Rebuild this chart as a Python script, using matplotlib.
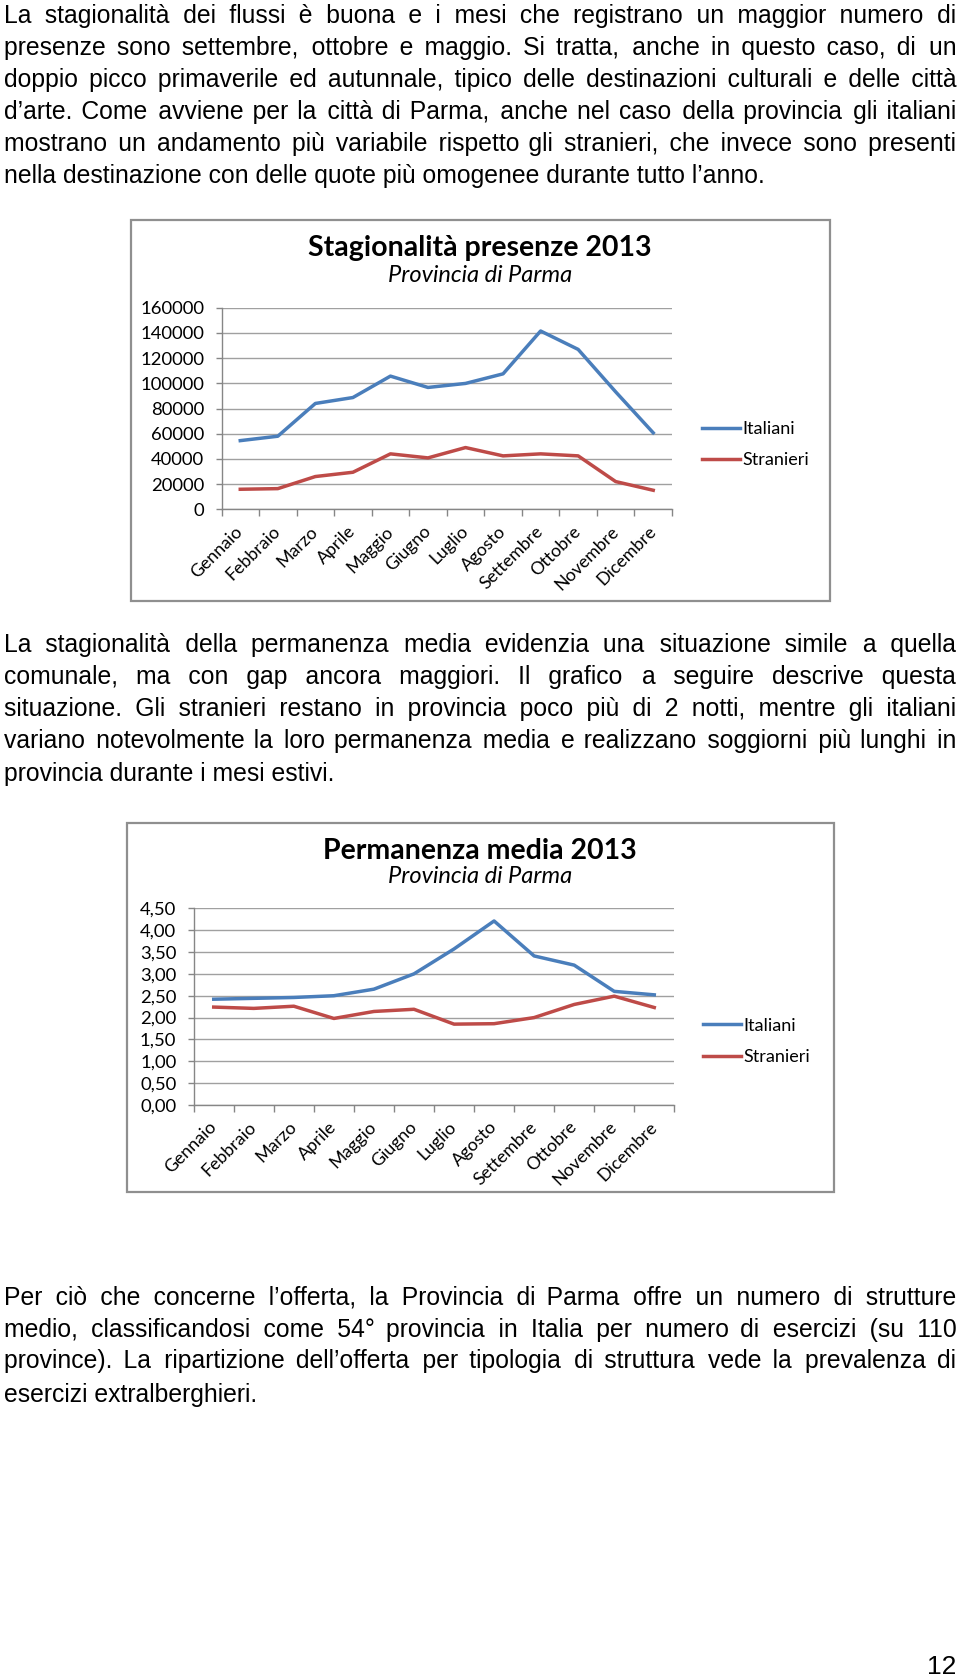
import matplotlib
matplotlib.use('Agg')
import matplotlib.pyplot as plt
from matplotlib.patches import Rectangle
from matplotlib.font_manager import FontProperties
from matplotlib.ticker import FuncFormatter
import numpy as np

# ---------------- data ----------------
months = ["Gennaio", "Febbraio", "Marzo", "Aprile", "Maggio", "Giugno", "Luglio",
          "Agosto", "Settembre", "Ottobre", "Novembre", "Dicembre"]
pres_italiani = [54500, 58000, 84000, 88700, 105700, 96700, 99900, 107500,
                 141500, 126900, 93200, 60700]
pres_stranieri = [15900, 16400, 26000, 29400, 44000, 40800, 49000, 42400,
                  44000, 42400, 22000, 15100]
perm_italiani = [2.42, 2.44, 2.46, 2.50, 2.65, 3.00, 3.57, 4.21, 3.41, 3.20, 2.60, 2.52]
perm_stranieri = [2.24, 2.21, 2.26, 1.98, 2.14, 2.19, 1.85, 1.86, 2.00, 2.30, 2.49, 2.23]
pres_yticks = [0, 20000, 40000, 60000, 80000, 100000, 120000, 140000, 160000]
perm_yticks = [0, 0.5, 1.0, 1.5, 2.0, 2.5, 3.0, 3.5, 4.0, 4.5]
series_names = ["Italiani", "Stranieri"]

par1 = [
    "La stagionalità dei flussi è buona e i mesi che registrano un maggior numero di",
    "presenze sono settembre, ottobre e maggio. Si tratta, anche in questo caso, di un",
    "doppio picco primaverile ed autunnale, tipico delle destinazioni culturali e delle città",
    "d’arte. Come avviene per la città di Parma, anche nel caso della provincia gli italiani",
    "mostrano un andamento più variabile rispetto gli stranieri, che invece sono presenti",
    "nella destinazione con delle quote più omogenee durante tutto l’anno.",
]
par2 = [
    "La stagionalità della permanenza media evidenzia una situazione simile a quella",
    "comunale, ma con gap ancora maggiori. Il grafico a seguire descrive questa",
    "situazione. Gli stranieri restano in provincia poco più di 2 notti, mentre gli italiani",
    "variano notevolmente la loro permanenza media e realizzano soggiorni più lunghi in",
    "provincia durante i mesi estivi.",
]
par3 = [
    "Per ciò che concerne l’offerta, la Provincia di Parma offre un numero di strutture",
    "medio, classificandosi come 54° provincia in Italia per numero di esercizi (su 110",
    "province). La ripartizione dell’offerta per tipologia di struttura vede la prevalenza di",
    "esercizi extralberghieri.",
]

# ---------------- figure ----------------
W, H = 960, 1680
fig = plt.figure(figsize=(9.6, 16.8), dpi=100, facecolor='white')
renderer = fig.canvas.get_renderer()
body_fp = FontProperties(family=['Liberation Sans', 'DejaVu Sans'], size=17.8)


def tw(s):
    w, h, d = renderer.get_text_width_height_descent(s, body_fp, ismath=False)
    return w


def adv(s):
    return tw("I" + s + "I") - tw("II")


SP = " "
HS = "\u200a"   # hair space, used to fine-tune the justification gaps
sp_w = adv(SP)
hs_w = adv(HS)
if hs_w <= 0.3:
    HS = "\u2009"
    hs_w = adv(HS)


def justify(line, width):
    """Build one string whose inter-word gaps stretch it to `width` pixels."""
    words = line.split(' ')
    advs = [adv(w) for w in words]
    g = (width - sum(advs)) / (len(words) - 1)
    out = words[0]
    actual = advs[0]
    target = advs[0]
    for k in range(1, len(words)):
        target += g
        best = None
        for n1 in range(1, 10):
            for n2 in range(0, 12):
                gw = n1 * sp_w + n2 * hs_w
                err = abs(actual + gw - target)
                if best is None or err < best[0]:
                    best = (err, n1, n2, gw)
        _, n1, n2, gw = best
        out += SP * n1 + HS * n2 + words[k]
        actual += gw + advs[k]
        target += advs[k]
    return out


def draw_par(lines, y_centers, left=4, right=956):
    for i, (line, yc) in enumerate(zip(lines, y_centers)):
        yb = 1 - (yc + 8) / H
        last = (i == len(lines) - 1)
        s = line if last else justify(line, right - left)
        fig.text(left / W, yb, s, fontproperties=body_fp, va='baseline',
                 ha='left', color='black')


draw_par(par1, [15, 47, 79, 111.5, 143.5, 175.5])
draw_par(par2, [644, 676, 708, 740, 772.5])
draw_par(par3, [1296, 1328.5, 1360, 1394])
fig.text(956 / W, 1 - (1665 + 9) / H, "12",
         fontproperties=FontProperties(family='Liberation Sans', size=19),
         ha='right', va='baseline')

BLUE = '#4A7EBB'
RED = '#BE4B48'
AXC = '#868686'
GRIDC = '#a0a0a0'
chart_font = 'Lato'


def box(l, t, r, b):
    fig.add_artist(Rectangle((l / W, 1 - b / H), (r - l) / W, (b - t) / H,
                             transform=fig.transFigure, fill=False,
                             edgecolor='#8f8f8f', lw=1.6))


def chart(l, t, r, b, ymax, yticks, fmt, ital, stran, title, title_size,
          title_y, sub_y, leg_x, leg_y):
    ax = fig.add_axes([l / W, 1 - b / H, (r - l) / W, (b - t) / H])
    x = np.arange(len(months))
    ax.plot(x, ital, color=BLUE, lw=2.5, label=series_names[0], solid_joinstyle='round')
    ax.plot(x, stran, color=RED, lw=2.5, label=series_names[1], solid_joinstyle='round')
    ax.set_xlim(-0.5, len(months) - 0.5)
    ax.set_ylim(0, ymax)
    ax.set_yticks(yticks)
    ax.yaxis.set_major_formatter(FuncFormatter(fmt))
    ax.grid(axis='y', color=GRIDC, lw=1.0)
    ax.set_axisbelow(True)
    for s in ['top', 'right']:
        ax.spines[s].set_visible(False)
    for s in ['left', 'bottom']:
        ax.spines[s].set_color(AXC)
        ax.spines[s].set_linewidth(1.0)
    ax.set_xticks(x)
    ax.set_xticklabels(months, rotation=45, ha='right', va='center',
                       rotation_mode='anchor', family=chart_font, fontsize=12.8)
    ax.set_xticks(np.arange(-0.5, len(months), 1), minor=True)
    ax.tick_params(axis='x', which='major', length=0, pad=14)
    ax.tick_params(axis='x', which='minor', length=5, color=AXC, width=1)
    ax.tick_params(axis='y', length=4.5, color=AXC, width=1, pad=8)
    for lab in ax.get_yticklabels():
        lab.set_family(chart_font)
        lab.set_fontsize(13.3)
    ax.set_facecolor('none')
    fig.text(480 / W, 1 - title_y / H, title, family=chart_font, weight='bold',
             fontsize=title_size, ha='center', va='center')
    fig.text(480 / W, 1 - sub_y / H, "Provincia di Parma", family=chart_font,
             style='italic', fontsize=17, ha='center', va='center')
    ax.legend(loc='center left', bbox_to_anchor=(leg_x / W, 1 - leg_y / H),
              bbox_transform=fig.transFigure, frameon=False, borderpad=0,
              borderaxespad=0, handlelength=2.1, handletextpad=0.15,
              labelspacing=0.85, prop=FontProperties(family=chart_font, size=13))
    return ax


box(131, 220, 830, 601)
chart(221.5, 307.7, 672, 509.3, 160000, pres_yticks, lambda v, p: f"{int(v)}",
      pres_italiani, pres_stranieri, "Stagionalità presenze 2013", 20.5, 248, 275,
      702, 444.7)

box(127, 823, 834, 1192)
chart(193.7, 908.3, 674.3, 1105, 4.5, perm_yticks,
      lambda v, p: f"{v:.2f}".replace('.', ','),
      perm_italiani, perm_stranieri, "Permanenza media 2013", 20.5, 851, 876,
      703, 1041.2)

fig.savefig('out.png', dpi=100, facecolor='white')
